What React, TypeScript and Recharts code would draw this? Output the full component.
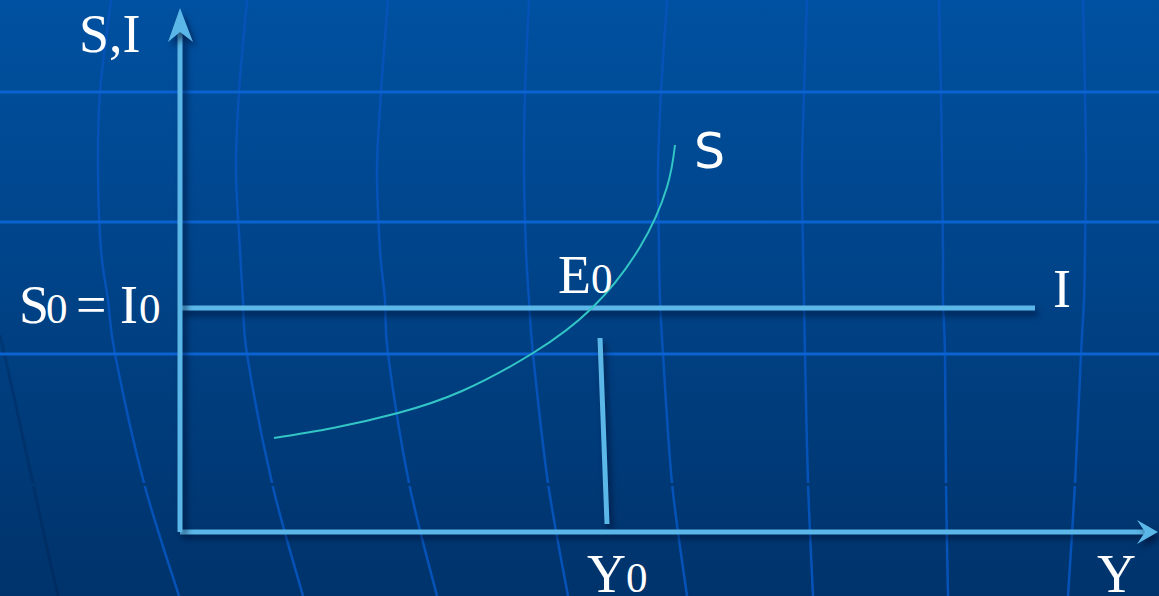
import React from 'react'
import { ComposedChart, Line, XAxis, YAxis, ReferenceDot } from 'recharts'

const W = 1159
const H = 596

// saving function S (income on x, saving on y)
const savingX = [94, 153, 218, 282, 353, 412, 460, 487, 495]
const savingY = [94, 104, 119, 141, 179, 224, 285, 345, 387]

// investment is autonomous: a flat line at I0
const investX = [0, 855]
const investY = [224, 224]

// the slanted drop line from E0 towards Y0
const dropX = [420, 427]
const dropY = [194, 8]

const equilibrium = { x: 412, y: 224 }
const xDomain = [0, 965]
const yDomain = [0, 500]
const xTicks = [427]
const yTicks = [224]

const toPoints = (xs: number[], ys: number[]) => xs.map((x, i) => ({ x, y: ys[i] }))
const savingData = toPoints(savingX, savingY)
const investData = toPoints(investX, investY)
const dropData = toPoints(dropX, dropY)

const LIGHT = '#5BB7E7'
const TEAL = '#33C6C6'
const serif = '"Liberation Serif", "Times New Roman", serif'
const sans = '"DejaVu Sans", Verdana, sans-serif'

// slide background: globe-like grid
const bands = [92, 222, 354]
const meridians = [
  [[111, 0], [100, 92], [98, 170], [101, 250], [108, 300], [115, 354], [144, 483], [179, 596]],
  [[247, 0], [239, 92], [236, 170], [240, 250], [243, 300], [247, 354], [272, 483], [303, 596]],
  [[388, 0], [381, 92], [377, 170], [380, 250], [385, 300], [388, 354], [409, 483], [437, 596]],
  [[529, 0], [525, 92], [524, 170], [526, 250], [529, 300], [533, 354], [548, 483], [568, 596]],
  [[667, 0], [661, 92], [658, 170], [659, 250], [660, 300], [663, 354], [672, 483], [687, 596]],
  [[807, 0], [804, 92], [802, 170], [803, 250], [804, 300], [805, 354], [808, 483], [813, 596]],
  [[939, 0], [941, 92], [942, 170], [943, 250], [943, 300], [945, 354], [946, 483], [948, 596]],
  [[1083, 0], [1085, 92], [1086, 170], [1085, 250], [1084, 300], [1081, 354], [1075, 483], [1068, 596]],
]

function smoothPath(pts: number[][]) {
  let d = `M${pts[0][0]},${pts[0][1]}`
  for (let i = 0; i < pts.length - 1; i++) {
    const p0 = pts[i - 1] || pts[i]
    const p1 = pts[i]
    const p2 = pts[i + 1]
    const p3 = pts[i + 2] || p2
    const c1x = p1[0] + (p2[0] - p0[0]) / 6
    const c1y = p1[1] + (p2[1] - p0[1]) / 6
    const c2x = p2[0] - (p3[0] - p1[0]) / 6
    const c2y = p2[1] - (p3[1] - p1[1]) / 6
    d += ` C${c1x},${c1y} ${c2x},${c2y} ${p2[0]},${p2[1]}`
  }
  return d
}

function Background() {
  return (
    <svg width={W} height={H} style={{ position: 'absolute', left: 0, top: 0 }}>
      <defs>
        <linearGradient id="bg" x1="0" y1="0" x2="0" y2={H} gradientUnits="userSpaceOnUse">
          <stop offset="0%" stopColor="#0051A1" />
          <stop offset="100%" stopColor="#00336B" />
        </linearGradient>
      </defs>
      <rect width={W} height={H} fill="url(#bg)" />
      <path d="M0,335 C20,420 40,520 58,596" stroke="rgba(0,20,60,0.2)" strokeWidth={3} fill="none" />
      {meridians.map((m, i) => (
        <path key={i} d={smoothPath(m)} stroke="#0553B8" strokeWidth={2.5} fill="none" />
      ))}
      <rect x={0} y={483} width={W} height={3} fill="url(#bg)" />
      {bands.map((y) => (
        <line key={y} x1={0} x2={W} y1={y} y2={y} stroke="#0A63D0" strokeWidth={3} />
      ))}
    </svg>
  )
}

const css = `
.recharts-cartesian-axis-line { filter: drop-shadow(4px 4px 3px rgba(0,10,40,0.6)); }
.shadowed { filter: drop-shadow(3px 5px 3px rgba(0,10,40,0.6)); }
`

function YTick({ x, y }: any) {
  return (
    <text y={y + 15} fill="#fff" fontFamily={serif} fontSize={54}>
      <tspan x={x - 161}>S</tspan>
      <tspan x={x - 134} fontSize={43}>0</tspan>
      <tspan x={x - 104}>=</tspan>
      <tspan x={x - 60}>I</tspan>
      <tspan x={x - 41} fontSize={43}>0</tspan>
    </text>
  )
}

function XTick({ x, y }: any) {
  return (
    <text x={x - 20} y={y + 60} fill="#fff" fontFamily={serif} fontSize={54}>
      Y<tspan fontSize={43}>0</tspan>
    </text>
  )
}

const upArrow = ({ cx, cy }: any) => (
  <g>
    <polygon
      points={`${cx},${cy - 24} ${cx + 13},${cy + 10} ${cx},${cy} ${cx - 12},${cy + 10}`}
      fill={LIGHT}
      className="shadowed"
    />
    <text x={cx - 101} y={cy + 20} fill="#fff" fontFamily={serif} fontSize={54}>S,I</text>
  </g>
)

const rightArrow = ({ cx, cy }: any) => (
  <g>
    <polygon
      points={`${cx + 13},${cy} ${cx - 8},${cy + 12} ${cx},${cy} ${cx - 8},${cy - 12}`}
      fill={LIGHT}
      className="shadowed"
    />
    <text x={cx - 48} y={cy + 60} fill="#fff" fontFamily={serif} fontSize={54}>Y</text>
  </g>
)

const eLabel = ({ cx, cy }: any) => (
  <text x={cx - 34} y={cy - 15} fill="#fff" fontFamily={serif} fontSize={54}>
    E<tspan fontSize={43}>0</tspan>
  </text>
)

const sLabel = ({ cx, cy }: any) => (
  <text x={cx + 19} y={cy + 23} fill="#fff" fontFamily={sans} fontSize={49}>S</text>
)

const iLabel = ({ cx, cy }: any) => (
  <text x={cx + 18} y={cy - 1} fill="#fff" fontFamily={serif} fontSize={54}>I</text>
)

export default function App() {
  const sEnd = savingData[savingData.length - 1]
  const iEnd = investData[investData.length - 1]
  return (
    <div style={{ position: 'absolute', left: 0, top: 0, width: W, height: H, overflow: 'hidden' }}>
      <style>{css}</style>
      <Background />
      <div style={{ position: 'absolute', left: 0, top: 0 }}>
        <ComposedChart width={W} height={H} margin={{ top: 32, right: 14, bottom: 0, left: 0 }}>
          <XAxis
            type="number"
            dataKey="x"
            domain={xDomain}
            allowDataOverflow
            ticks={xTicks}
            interval={0}
            tick={<XTick />}
            tickLine={false}
            tickSize={0}
            tickMargin={0}
            height={64}
            axisLine={{ stroke: LIGHT, strokeWidth: 5 }}
          />
          <YAxis
            type="number"
            dataKey="y"
            domain={yDomain}
            allowDataOverflow
            ticks={yTicks}
            interval={0}
            tick={<YTick />}
            tickLine={false}
            tickSize={0}
            tickMargin={0}
            width={180}
            axisLine={{ stroke: LIGHT, strokeWidth: 5 }}
          />
          <Line
            data={investData}
            dataKey="y"
            type="linear"
            stroke={LIGHT}
            strokeWidth={5}
            dot={false}
            activeDot={false}
            className="shadowed"
            isAnimationActive={false}
          />
          <Line
            data={dropData}
            dataKey="y"
            type="linear"
            stroke={LIGHT}
            strokeWidth={5}
            dot={false}
            activeDot={false}
            className="shadowed"
            isAnimationActive={false}
          />
          <Line
            data={savingData}
            dataKey="y"
            type="natural"
            stroke={TEAL}
            strokeWidth={2}
            dot={false}
            activeDot={false}
            isAnimationActive={false}
          />
          <ReferenceDot x={xDomain[0]} y={yDomain[1]} r={1} shape={upArrow} />
          <ReferenceDot x={xDomain[1]} y={yDomain[0]} r={1} shape={rightArrow} />
          <ReferenceDot x={equilibrium.x} y={equilibrium.y} r={1} shape={eLabel} />
          <ReferenceDot x={sEnd.x} y={sEnd.y} r={1} shape={sLabel} />
          <ReferenceDot x={iEnd.x} y={iEnd.y} r={1} shape={iLabel} />
        </ComposedChart>
      </div>
    </div>
  )
}
